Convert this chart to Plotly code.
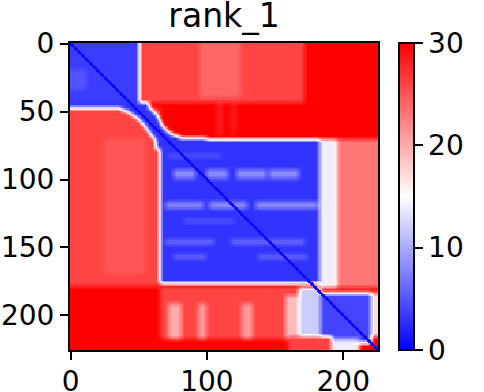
import numpy as np
import plotly.graph_objects as go

# ---------------- data ----------------
n_res = 226                      # residues 0..225
pae_max = 30                     # colour-bar top
x_ticks = [0, 100, 200]
y_ticks = [0, 50, 100, 150, 200]
cbar_ticks = [0, 10, 20, 30]
title_text = "rank_1"

# rectangular PAE regions [row0,row1) x [col0,col1), applied in order on top of pae_max
reg_row0 = [0,  0,  44, 44, 48, 70, 0,  20, 71,  71,  71,  179, 192, 192, 192, 186, 180, 184, 184, 216, 218]
reg_row1 = [44, 40, 68, 68, 179, 170, 47, 34, 177, 180, 180, 218, 218, 218, 218, 218, 226, 216, 221, 226, 226]
reg_col0 = [51, 95, 108, 118, 0,  25, 0,  0,  66,  183, 196, 66,  72,  94,  126, 158, 168, 221, 184, 160, 192]
reg_col1 = [172, 125, 112, 122, 66, 55, 51, 12, 183, 196, 226, 168, 82,  100, 134, 168, 184, 226, 221, 192, 212]
reg_pae  = [26, 24, 28, 28.5, 26, 25, 3.5, 5, 3,  14,  23,  26,  20,  21,  21,  19,  12,  17,  4,   26,  14]

# low-error band of the linker between domain 1 and domain 2
link_row0 = [44, 48, 50, 52, 54, 56, 58, 60, 62, 64, 66, 68, 70, 71]
link_row1 = [48, 50, 52, 54, 56, 58, 60, 62, 64, 66, 68, 70, 71, 78]
link_col0 = [0,  38, 43, 46, 49, 51, 53, 55, 56, 58, 59, 61, 62, 63]
link_col1 = [58, 60, 62, 64, 65, 66, 67, 68, 70, 72, 75, 80, 100, 66]
link_pae = 3

# lighter horizontal stripe pieces inside domain 2
stripe_row0 = [82, 93, 93, 93, 93, 117, 117, 117, 130, 145, 145, 156, 156]
stripe_row1 = [84, 100, 100, 100, 100, 122, 122, 122, 132, 148, 148, 159, 159]
stripe_col0 = [72, 76, 100, 122, 146, 70, 102, 136, 84, 70, 118, 76, 138]
stripe_col1 = [110, 92, 116, 144, 168, 98, 130, 182, 120, 106, 172, 100, 174]
stripe_pae  = [6, 8, 8, 8, 8, 8, 8.5, 8.5, 6, 7, 7, 6.5, 6.5]

# error next to the diagonal (offset 0, 1)
diag_pae = [0.2, 1.2]

# ---------------- build matrix ----------------
M = np.full((n_res, n_res), float(pae_max))
for r0, r1, c0, c1, v in zip(reg_row0, reg_row1, reg_col0, reg_col1, reg_pae):
    M[r0:r1, c0:c1] = v
for r0, r1, c0, c1 in zip(link_row0, link_row1, link_col0, link_col1):
    M[r0:r1, c0:c1] = link_pae
for r0, r1, c0, c1, v in zip(stripe_row0, stripe_row1, stripe_col0, stripe_col1, stripe_pae):
    M[r0:r1, c0:c1] = v

# soft edges (5x5 box average) as in the rendered picture
h = 2
P = np.pad(M, h, mode="edge")
offs = range(-h, h + 1)
S = sum(P[h + di:h + di + n_res, h + dj:h + dj + n_res] for di in offs for dj in offs) / float((2 * h + 1) ** 2)
for k, v in enumerate(diag_pae):
    idx = np.arange(n_res - k)
    S[idx, idx + k] = np.minimum(S[idx, idx + k], v)
    S[idx + k, idx] = np.minimum(S[idx + k, idx], v)

res = np.arange(n_res)
bwr = [[0.0, "rgb(0,0,255)"], [0.5, "rgb(255,255,255)"], [1.0, "rgb(255,0,0)"]]
font_family = "DejaVu Sans"

fig = go.Figure(
    go.Heatmap(
        z=S, x=res, y=res, colorscale=bwr, zmin=0, zmax=pae_max,
        colorbar=dict(
            thickness=15, len=1, lenmode="fraction", x=1.068, xanchor="left",
            xpad=0, ypad=0, y=0.5, yanchor="middle",
            outlinewidth=2, outlinecolor="black",
            tickvals=cbar_ticks, ticks="outside", ticklen=8, tickwidth=2, tickcolor="black",
            tickfont=dict(family=font_family, size=28, color="black"),
        ),
    )
)

axis_style = dict(
    showline=True, linewidth=2, linecolor="black", mirror=True,
    ticks="outside", ticklen=8, tickwidth=2, tickcolor="black",
    showgrid=False, zeroline=False, automargin=False,
    tickfont=dict(family=font_family, size=28, color="black"),
)
fig.update_xaxes(range=[-0.5, n_res - 0.5], tickvals=x_ticks, ticklabelstandoff=-3, **axis_style)
fig.update_yaxes(range=[n_res - 0.5, -0.5], tickvals=y_ticks, **axis_style)

fig.update_layout(
    width=484, height=392,
    margin=dict(l=70, r=106, t=43, b=42, autoexpand=False),
    paper_bgcolor="white", plot_bgcolor="white",
    title=dict(text=title_text, x=0.5, xref="paper", xanchor="center",
               y=1 - 15 / 392, yref="container", yanchor="middle",
               font=dict(family=font_family, size=33, color="black")),
)

fig.write_html("out.html", config={"displayModeBar": False},
               post_script="document.body.style.margin='0';")
